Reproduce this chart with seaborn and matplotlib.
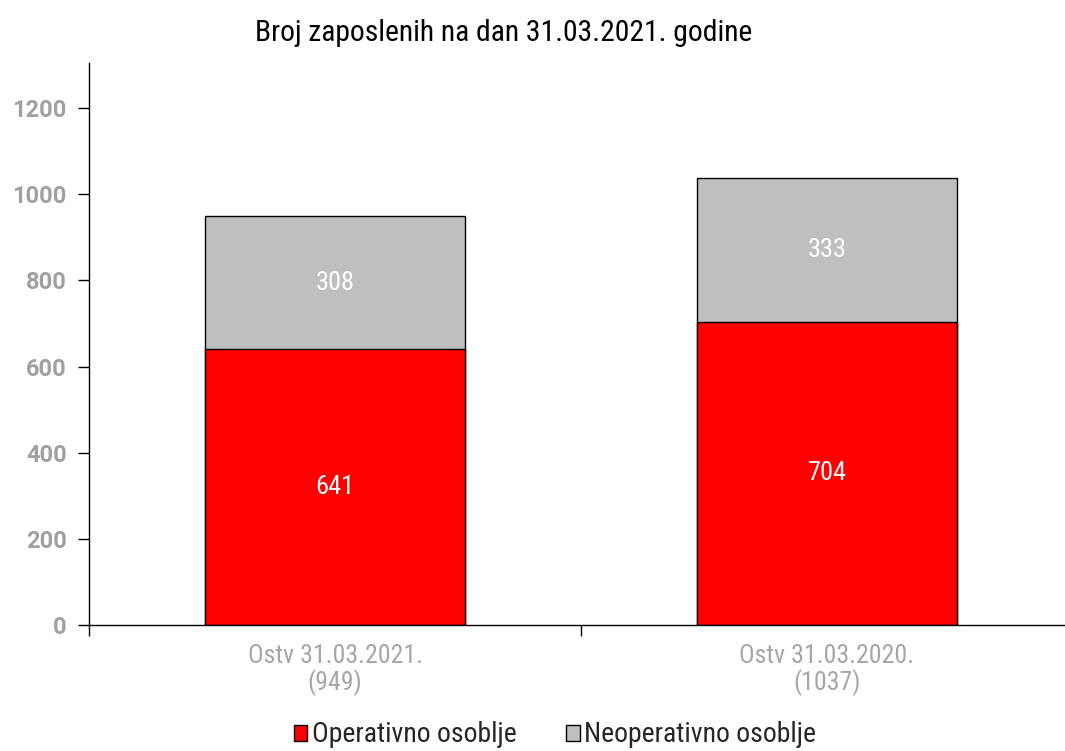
import matplotlib
matplotlib.use("Agg")
import matplotlib.pyplot as plt
import seaborn as sns
import pandas as pd
from matplotlib.patches import Patch

# podaci
kategorije = ["Ostv 31.03.2021.", "Ostv 31.03.2020."]
operativno = [641, 704]
neoperativno = [308, 333]
serije = ["Operativno osoblje", "Neoperativno osoblje"]
yticks = [0, 200, 400, 600, 800, 1000, 1200]

sns.set_style("white")
plt.rcParams["font.family"] = ["Roboto Condensed", "DejaVu Sans"]

ukupno = [a + b for a, b in zip(operativno, neoperativno)]
oznake = [f"{k}\n({u})" for k, u in zip(kategorije, ukupno)]
df = pd.DataFrame({"kat": oznake, "op": operativno, "uk": ukupno})

fig = plt.figure(figsize=(10.65, 7.51), dpi=100)
ax = fig.add_axes([89 / 1065, 126 / 751, 984 / 1065, 562 / 751])

crvena = "#ff0000"
siva = "#bfbfbf"

# stacked: total (grey) first, then red on top of it
sns.barplot(data=df, x="kat", y="uk", color=siva, edgecolor="black", linewidth=1,
            width=0.527, saturation=1, ax=ax)
sns.barplot(data=df, x="kat", y="op", color=crvena, edgecolor="black", linewidth=1,
            width=0.527, saturation=1, ax=ax)

# labels in segments
for i in range(len(kategorije)):
    ax.text(i, operativno[i] / 2, str(operativno[i]), ha="center", va="center",
            color="white", fontsize=19)
    ax.text(i, operativno[i] + neoperativno[i] / 2, str(neoperativno[i]), ha="center",
            va="center", color="white", fontsize=19)

ax.set_xlim(-0.5, 1.5)
ax.set_ylim(0, 1305)
ax.set_yticks(yticks)
ax.set_yticklabels([str(t) for t in yticks], color="#a0a0a0", fontsize=17,
                   fontweight="bold", family=["Roboto", "DejaVu Sans"])
ax.tick_params(axis="y", direction="out", length=8, width=1, color="black", left=True, pad=8)

# x ticks between categories, labels as minor ticks
ax.set_xticks([-0.5, 0.5, 1.5])
ax.set_xticklabels([])
ax.tick_params(axis="x", which="major", direction="out", length=8, width=1, color="black", bottom=True)
ax.set_xticks([0, 1], minor=True)
ax.set_xticklabels(oznake, minor=True, color="#a6a6a6", fontsize=18.6, linespacing=1.05)
ax.tick_params(axis="x", which="minor", length=0, pad=14)
ax.set_xlabel("")
ax.set_ylabel("")

for s in ["top", "right"]:
    ax.spines[s].set_visible(False)
for s in ["left", "bottom"]:
    ax.spines[s].set_color("black")
    ax.spines[s].set_linewidth(1)

fig.text(504 / 1065, 1 - 33 / 751, "Broj zaposlenih na dan 31.03.2021. godine",
         ha="center", va="center", fontsize=21.3, color="black")

handles = [Patch(facecolor=crvena, edgecolor="black", label=serije[0]),
           Patch(facecolor=siva, edgecolor="black", label=serije[1])]
fig.legend(handles=handles, loc="center", bbox_to_anchor=(555 / 1065, 1 - 735 / 751),
           ncol=2, frameon=False, prop={"size": 20},
           handlelength=0.5, handleheight=0.5, handletextpad=0.15, columnspacing=1.8,
           borderaxespad=0, borderpad=0)

fig.savefig("out.png", dpi=100)
